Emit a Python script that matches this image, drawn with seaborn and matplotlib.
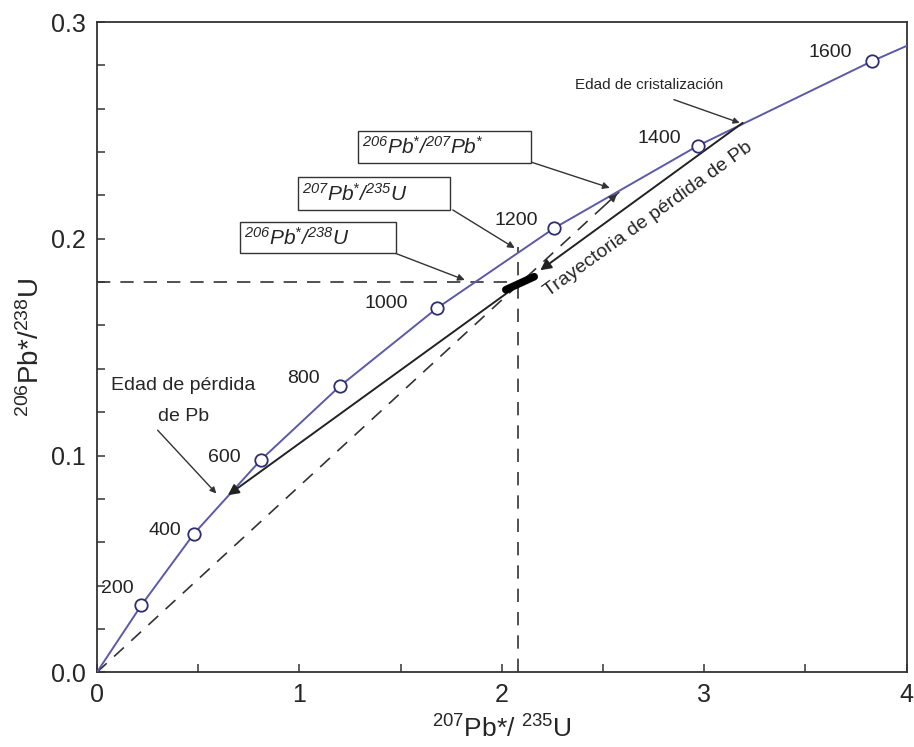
import numpy as np
import pandas as pd
import matplotlib
matplotlib.use("Agg")
import matplotlib.pyplot as plt
from matplotlib.patches import Rectangle
import seaborn as sns

# concordia ages (Ma) and the ratios
ages = [200, 400, 600, 800, 1000, 1200, 1400, 1600]
pb207_u235 = [0.22, 0.48, 0.81, 1.20, 1.68, 2.26, 2.97, 3.83]
pb206_u238 = [0.031, 0.064, 0.098, 0.132, 0.168, 0.205, 0.243, 0.282]
curve_x = [0.0] + pb207_u235 + [4.0]
curve_y = [0.0] + pb206_u238 + [0.289]

# discordia and the sample
upper_int = (3.19, 0.2535)
lower_int = (0.647, 0.0817)
sample = (2.08, 0.180)
blob_x = [2.02, 2.16]
blob_y = [0.1765, 0.1825]
pb_ratio_end = (2.58, 0.2216)

sns.set_style("white")
plt.rcParams["font.family"] = ["Liberation Sans", "DejaVu Sans"]
plt.rcParams["mathtext.default"] = "regular"

fig = plt.figure(figsize=(9.14, 7.47), dpi=100)
ax = fig.add_axes([0.106, 0.100, 0.886, 0.8705])

curve = pd.DataFrame({"x": curve_x, "y": curve_y})
pts = pd.DataFrame({"x": pb207_u235, "y": pb206_u238, "age": ages})
sns.lineplot(data=curve, x="x", y="y", sort=False, color="#5a5aa6", lw=1.4, ax=ax, zorder=3)
sns.scatterplot(data=pts, x="x", y="y", s=80, facecolor="white", edgecolor="#2e2e6e",
                linewidth=1.3, ax=ax, zorder=4)

dash = (0, (8, 6))
gray = "#333333"
# 206/207 ray from origin
ax.plot([0, pb_ratio_end[0]], [0, pb_ratio_end[1]], color=gray, lw=1.2, ls=dash, zorder=2)
ax.annotate("", xy=pb_ratio_end, xytext=(2.50, 0.2147),
            arrowprops=dict(arrowstyle="-|>", color=gray, lw=1.2, mutation_scale=11))
# projection lines of the sample
ax.plot([0, sample[0]], [sample[1], sample[1]], color=gray, lw=1.2, ls=dash, zorder=2)
ax.plot([sample[0], sample[0]], [0, 0.196], color=gray, lw=1.2, ls=dash, zorder=2)

# discordia with arrows
ax.annotate("", xy=(2.19, 0.1855), xytext=upper_int,
            arrowprops=dict(arrowstyle="-|>", color="#222222", lw=1.4, mutation_scale=16,
                            shrinkA=0, shrinkB=0))
ax.annotate("", xy=lower_int, xytext=(2.10, 0.180),
            arrowprops=dict(arrowstyle="-|>", color="#222222", lw=1.4, mutation_scale=16,
                            shrinkA=0, shrinkB=0))
ax.plot(blob_x, blob_y, color="black", lw=5.5, solid_capstyle="round", zorder=5)

# age labels
label_pos = [(0.10, 0.0385), (0.335, 0.0655), (0.63, 0.099), (1.02, 0.1355),
             (1.43, 0.1700), (2.07, 0.2085), (2.78, 0.2465), (3.62, 0.2858)]
for a, (lx, ly) in zip(ages, label_pos):
    ax.text(lx, ly, str(a), fontsize=14, ha="center", va="center", color="#222222")

# boxed ratio labels
boxes = [
    ((1.289, 0.2350), 0.854, 0.0148, r"$^{206}$Pb$^{*}$/$^{207}$Pb$^{*}$", (2.138, 0.2356), (2.533, 0.2235)),
    ((0.993, 0.2133), 0.750, 0.0152, r"$^{207}$Pb$^{*}$/$^{235}$U", (1.758, 0.2133), (2.064, 0.1957)),
    ((0.706, 0.1934), 0.771, 0.0144, r"$^{206}$Pb$^{*}$/$^{238}$U", (1.472, 0.1934), (1.817, 0.1810)),
]
for (bx, by), bw, bh, txt, start, end in boxes:
    ax.add_patch(Rectangle((bx, by), bw, bh, fill=True, facecolor="white",
                           edgecolor="#333333", lw=1.0, zorder=6))
    ax.text(bx + 0.02, by + bh / 2, txt, fontsize=15, fontstyle="italic",
            ha="left", va="center", zorder=7)
    ax.annotate("", xy=end, xytext=start,
                arrowprops=dict(arrowstyle="-|>", color=gray, lw=1.0, mutation_scale=10,
                                shrinkA=0, shrinkB=0))

ax.text(2.73, 0.271, "Edad de cristalización", fontsize=11, ha="center", va="center")
ax.annotate("", xy=(3.175, 0.2535), xytext=(2.85, 0.2642),
            arrowprops=dict(arrowstyle="-|>", color=gray, lw=1.0, mutation_scale=9,
                            shrinkA=0, shrinkB=0))
ax.text(0.425, 0.1325, "Edad de pérdida", fontsize=14, ha="center", va="center")
ax.text(0.43, 0.1180, "de Pb", fontsize=14, ha="center", va="center")
ax.annotate("", xy=(0.59, 0.0825), xytext=(0.30, 0.1117),
            arrowprops=dict(arrowstyle="-|>", color=gray, lw=1.0, mutation_scale=9,
                            shrinkA=0, shrinkB=0))
ax.text(2.725, 0.2090, "Trayectoria de pérdida de Pb", fontsize=14, rotation=35.8,
        rotation_mode="anchor", ha="center", va="center")

ax.set_xlim(0, 4)
ax.set_ylim(0, 0.3)
ax.set_xticks([0, 1, 2, 3, 4])
ax.set_xticklabels(["0", "1", "2", "3", "4"])
ax.set_yticks([0.0, 0.1, 0.2, 0.3])
ax.set_yticklabels(["0.0", "0.1", "0.2", "0.3"])
ax.set_xticks(np.arange(0, 4.01, 0.5), minor=True)
ax.set_yticks(np.arange(0, 0.301, 0.02), minor=True)
ax.tick_params(which="both", direction="in", length=6, width=1.1, color="#333333",
               labelsize=18, pad=8, left=True, bottom=True)
for s in ax.spines.values():
    s.set_color("#333333")
    s.set_linewidth(1.3)
ax.set_xlabel(r"$^{207}$Pb*/ $^{235}$U", fontsize=19, labelpad=6)
ax.set_ylabel(r"$^{206}$Pb*/$^{238}$U", fontsize=20, labelpad=4)

fig.savefig("out.png", dpi=100)
